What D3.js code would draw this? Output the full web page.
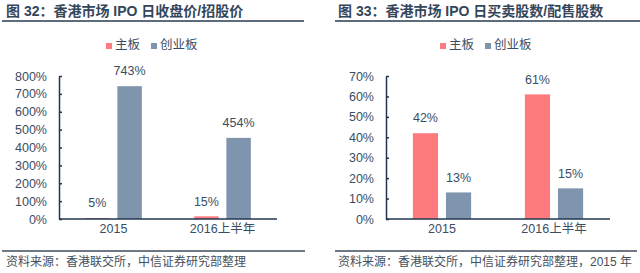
<!DOCTYPE html>
<html>
<head>
<meta charset="utf-8">
<script src="https://cdn.jsdelivr.net/npm/d3@7"></script>
<style>
  body { margin: 0; background: #fff; }
  svg { display: block; }
</style>
</head>
<body>
<svg id="chart" width="640" height="273"></svg>
<script>
// data
const categories = ['2015', '2016上半年'];
const seriesNames = ['主板', '创业板'];

const closeMain = [5, 15];
const closeGem = [743, 454];
const closeTicks = [0, 100, 200, 300, 400, 500, 600, 700, 800];

const tradeMain = [42, 61];
const tradeGem = [13, 15];
const tradeTicks = [0, 10, 20, 30, 40, 50, 60, 70];

const titles = ['图 32：香港市场 IPO 日收盘价/招股价', '图 33：香港市场 IPO 日买卖股数/配售股数'];
const sources = ['资料来源：香港联交所，中信证券研究部整理', '资料来源：香港联交所，中信证券研究部整理，2015 年'];

const colors = ['#fd7b7e', '#7f95ae'];
const font = 'Arial, "Liberation Sans", "Noto Sans CJK SC", sans-serif';
const textColor = '#3a4d63';

const svg = d3.select('#chart');

function drawPanel(opts) {
    const g = svg.append('g').attr('transform', 'translate(' + opts.left + ', 0)');

    // title + rule under it
    g.append('text')
        .attr('x', opts.titleX)
        .attr('y', 12)
        .attr('dominant-baseline', 'middle')
        .attr('font-family', font)
        .attr('font-size', '14px')
        .attr('font-weight', 'bold')
        .attr('fill', '#34465a')
        .text(opts.title);

    g.append('line')
        .attr('x1', opts.ruleX1).attr('x2', opts.ruleX2)
        .attr('y1', 21).attr('y2', 21)
        .attr('stroke', '#5d6b7a')
        .attr('stroke-width', 2);

    // legend
    seriesNames.forEach((name, i) => {
        g.append('rect')
            .attr('x', opts.legendX[i])
            .attr('y', 43)
            .attr('width', 6)
            .attr('height', 6)
            .attr('fill', colors[i]);
        g.append('text')
            .attr('x', opts.legendX[i] + 9)
            .attr('y', 46)
            .attr('dominant-baseline', 'middle')
            .attr('font-family', font)
            .attr('font-size', '12.5px')
            .attr('fill', textColor)
            .text(name);
    });

    const plot = g.append('g').attr('transform', 'translate(' + opts.axisX + ', 0)');

    const y = d3.scaleLinear()
        .domain([0, d3.max(opts.ticks)])
        .range([219, 76]);

    const x0 = d3.scaleBand()
        .domain(categories)
        .range([0, opts.width])
        .paddingInner(0.48)
        .paddingOuter(0.24);

    const x1 = d3.scaleBand()
        .domain(seriesNames)
        .range([0, x0.bandwidth()])
        .paddingInner(0.24);

    const yAxis = plot.append('g')
        .call(d3.axisLeft(y)
            .tickValues(opts.ticks)
            .tickSize(-3)
            .tickSizeOuter(0)
            .tickPadding(12)
            .tickFormat(d => d + '%'));
    yAxis.select('.domain').attr('stroke', '#22374f').attr('stroke-width', 1.5);
    yAxis.selectAll('.tick line').attr('stroke', '#22374f').attr('stroke-width', 1.5);
    yAxis.selectAll('.tick text')
        .attr('font-family', font)
        .attr('font-size', '12.5px')
        .attr('fill', textColor);

    const rows = categories.map((c, i) => ({ cat: c, vals: [opts.main[i], opts.gem[i]] }));

    const groups = plot.selectAll('.grp')
        .data(rows)
        .enter()
        .append('g')
        .attr('class', 'grp')
        .attr('transform', d => 'translate(' + x0(d.cat) + ', 0)');

    groups.selectAll('rect')
        .data(d => d.vals.map((v, i) => ({ name: seriesNames[i], v: v, i: i })))
        .enter()
        .append('rect')
        .attr('x', d => x1(d.name))
        .attr('y', d => y(d.v))
        .attr('width', x1.bandwidth())
        .attr('height', d => y(0) - y(d.v))
        .attr('fill', d => colors[d.i]);

    groups.selectAll('.lbl')
        .data(d => d.vals.map((v, i) => ({ name: seriesNames[i], v: v })))
        .enter()
        .append('text')
        .attr('class', 'lbl')
        .attr('x', d => x1(d.name) + x1.bandwidth() / 2)
        .attr('y', d => y(d.v) - 14)
        .attr('dominant-baseline', 'middle')
        .attr('text-anchor', 'middle')
        .attr('font-family', font)
        .attr('font-size', '12.5px')
        .attr('fill', textColor)
        .text(d => d.v + '%');

    // x axis line + category labels
    plot.append('line')
        .attr('x1', 0).attr('x2', opts.width)
        .attr('y1', y(0)).attr('y2', y(0))
        .attr('stroke', '#22374f')
        .attr('stroke-width', 1.5);

    plot.selectAll('.cat')
        .data(categories)
        .enter()
        .append('text')
        .attr('class', 'cat')
        .attr('x', d => x0(d) + x0.bandwidth() / 2)
        .attr('y', 230)
        .attr('dominant-baseline', 'middle')
        .attr('text-anchor', 'middle')
        .attr('font-family', font)
        .attr('font-size', '12.5px')
        .attr('fill', textColor)
        .text(d => d);

    // footer
    g.append('line')
        .attr('x1', opts.ruleX1).attr('x2', opts.footX2)
        .attr('y1', 251).attr('y2', 251)
        .attr('stroke', '#3f4c5a')
        .attr('stroke-width', 1.5);

    g.append('text')
        .attr('x', opts.titleX)
        .attr('y', 263)
        .attr('dominant-baseline', 'middle')
        .attr('font-family', font)
        .attr('font-size', '12px')
        .attr('fill', '#46505c')
        .text(opts.source);
}

drawPanel({
    left: 0, titleX: 6, ruleX1: 2, ruleX2: 304, footX2: 305,
    legendX: [106, 151], axisX: 59, width: 218,
    ticks: closeTicks, main: closeMain, gem: closeGem,
    title: titles[0], source: sources[0]
});

drawPanel({
    left: 320, titleX: 18, ruleX1: 15, ruleX2: 320, footX2: 317,
    legendX: [120, 165], axisX: 66, width: 224,
    ticks: tradeTicks, main: tradeMain, gem: tradeGem,
    title: titles[1], source: sources[1]
});
</script>
</body>
</html>
